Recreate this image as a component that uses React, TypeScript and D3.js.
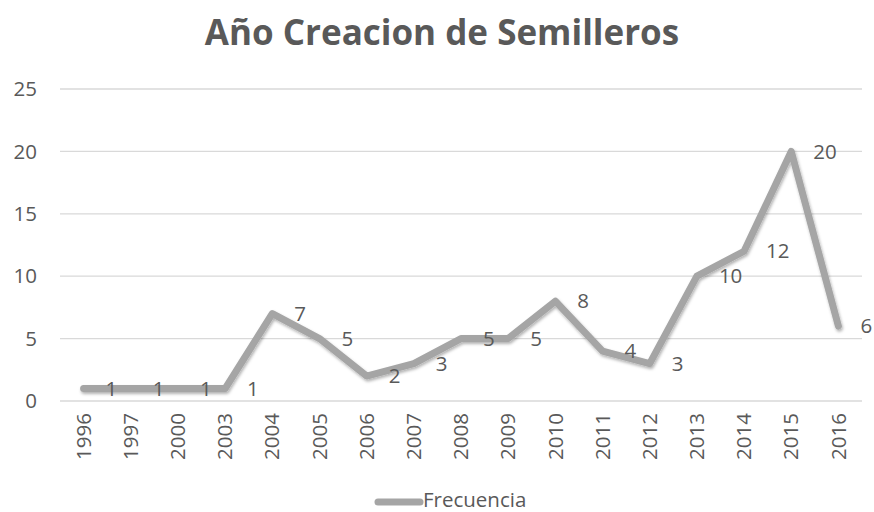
import React from "react";
import * as d3 from "d3";

const years = ["1996","1997","2000","2003","2004","2005","2006","2007","2008","2009","2010","2011","2012","2013","2014","2015","2016"];
const frecuencia = [1,1,1,1,7,5,2,3,5,5,8,4,3,10,12,20,6];
const yTicks = [0,5,10,15,20,25];
const title = "Año Creacion de Semilleros";
const seriesName = "Frecuencia";

export default function App() {
  const W = 874, H = 512;
  const left = 60, right = 862, top = 89, bottom = 401;
  const x = d3.scaleBand<string>().domain(years).range([left, right]);
  const y = d3.scaleLinear().domain([0, 25]).range([bottom, top]);
  const cx = (d: string) => (x(d) as number) + x.bandwidth() / 2;
  const line = d3.line<number>().x((_, i) => cx(years[i])).y((v) => y(v));
  const font = "'Open Sans', sans-serif";
  const txt = "#595959";
  const col = "#a5a5a5";
  const fs = 20.5;
  return (
    <svg width={W} height={H} style={{ position: "absolute", left: 0, top: 0 }} fontFamily={font}>
      <defs>
        <filter id="sh" x="-10%" y="-10%" width="120%" height="130%">
          <feDropShadow dx="1" dy="2" stdDeviation="1.5" floodColor="#000" floodOpacity="0.3" />
        </filter>
      </defs>
      <rect width={W} height={H} fill="#fff" />
      <text x={442} y={45} textAnchor="middle" fontSize={35} fontWeight="bold" fill={txt}>{title}</text>
      {yTicks.map((t) => (
        <g key={t}>
          <line x1={left} x2={right} y1={y(t)} y2={y(t)} stroke="#d9d9d9" strokeWidth={1.3} />
          <text x={37} y={y(t)} dy="0.35em" textAnchor="end" fontSize={fs} fill={txt}>{t}</text>
        </g>
      ))}
      {years.map((yr) => (
        <text key={yr} transform={`translate(${cx(yr)},413) rotate(-90)`} dy="0.35em" textAnchor="end" fontSize={fs} fill={txt}>{yr}</text>
      ))}
      <path d={line(frecuencia) || ""} fill="none" stroke={col} strokeWidth={7} strokeLinejoin="round" strokeLinecap="round" filter="url(#sh)" />
      {frecuencia.map((v, i) => (
        <text key={i} x={cx(years[i]) + 22} y={y(v)} dy="0.35em" fontSize={fs} fill={txt}>{v}</text>
      ))}
      <line x1={378} x2={420} y1={502} y2={502} stroke={col} strokeWidth={7} strokeLinecap="round" />
      <text x={423} y={500} dy="0.35em" fontSize={fs} fill={txt}>{seriesName}</text>
    </svg>
  );
}
